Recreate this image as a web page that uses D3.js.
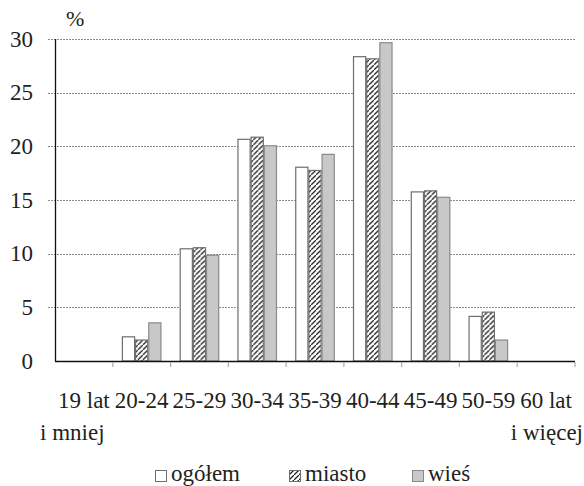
<!DOCTYPE html>
<html>
<head>
<meta charset="utf-8">
<script src="https://cdn.jsdelivr.net/npm/d3@7/dist/d3.min.js"></script>
</head>
<body style="margin:0">
<svg id="chart" width="584" height="486"></svg>
<script>
const categories = ["19 lat", "20-24", "25-29", "30-34", "35-39", "40-44", "45-49", "50-59", "60 lat"];
const secondLines = ["i mniej", "", "", "", "", "", "", "", "i więcej"];
const seriesNames = ["ogółem", "miasto", "wieś"];
const ogolem = [0, 2.3, 10.5, 20.7, 18.1, 28.4, 15.8, 4.2, 0];
const miasto = [0, 2.0, 10.6, 20.9, 17.8, 28.2, 15.9, 4.6, 0];
const wies   = [0, 3.6, 9.9, 20.1, 19.3, 29.7, 15.3, 2.0, 0];
const yTicks = [0, 5, 10, 15, 20, 25, 30];

const seriesValues = [ogolem, miasto, wies];
const svg = d3.select("#chart");
const textColor = "#231f20";
const fontSize = 23;

function addText(sel) {
  return sel.style("font-size", fontSize + "px")
    .style("font-family", "Times New Roman")
    .attr("fill", textColor);
}

// hatch pattern
const defs = svg.append("defs");
const pat = defs.append("pattern")
  .attr("id", "hatch").attr("patternUnits", "userSpaceOnUse")
  .attr("width", 5).attr("height", 5);
pat.append("rect").attr("width", 5).attr("height", 5).attr("fill", "#fff");
pat.append("path")
  .attr("d", "M-1,6 L6,-1 M-2,1 L1,-2 M4,7 L7,4")
  .attr("stroke", "#222").attr("stroke-width", 1.3);

const fills = ["#ffffff", "url(#hatch)", "#c8c8c8"];
const strokes = ["#6e6e6e", "#6e6e6e", "#8a8a8a"];

const x0 = d3.scaleBand().domain(categories).range([55, 575]).paddingInner(0).paddingOuter(0);
const bw = x0.bandwidth();
const x1 = d3.scaleBand().domain(seriesNames).range([bw * 0.158, bw * 0.842]).padding(0);
const y = d3.scaleLinear().domain([0, 30]).range([361, 39]);

// gridlines
svg.append("g").selectAll("line").data(yTicks.filter(d => d > 0)).join("line")
  .attr("x1", 48).attr("x2", 575)
  .attr("y1", d => Math.round(y(d)) + 0.5).attr("y2", d => Math.round(y(d)) + 0.5)
  .attr("stroke", "#8c8c8c").attr("stroke-width", 1).attr("stroke-dasharray", "2,1");

// y labels
addText(svg.append("g").selectAll("text").data(yTicks).join("text"))
  .attr("x", 33).attr("y", d => y(d) + 7.6)
  .attr("text-anchor", "end")
  .text(d => d);

addText(svg.append("text")).attr("x", 66).attr("y", 26).style("font-size", (fontSize - 1) + "px").text("%");

// bars
const groups = svg.append("g").selectAll("g").data(categories).join("g")
  .attr("transform", d => `translate(${x0(d)},0)`);
groups.selectAll("rect")
  .data((c, i) => seriesNames.map((s, j) => ({ s, j, v: seriesValues[j][i] })).filter(d => d.v > 0))
  .join("rect")
  .attr("x", d => x1(d.s) + 0.5)
  .attr("width", x1.bandwidth() - 1)
  .attr("y", d => y(d.v) + 0.5)
  .attr("height", d => y(0) - y(d.v) - 0.5)
  .attr("fill", d => fills[d.j])
  .attr("stroke", d => strokes[d.j])
  .attr("stroke-width", 1.2);

// axes lines
svg.append("line").attr("x1", 55.5).attr("x2", 55.5).attr("y1", y(30)).attr("y2", 361.5)
  .attr("stroke", "#111").attr("stroke-width", 1.3);
svg.append("line").attr("x1", 55).attr("x2", 575).attr("y1", 361.5).attr("y2", 361.5)
  .attr("stroke", "#111").attr("stroke-width", 1.3);

// x ticks at band boundaries
const boundaries = categories.map(c => x0(c)).slice(1).concat([x0(categories[categories.length - 1]) + bw]);
svg.append("g").selectAll("line").data(boundaries).join("line")
  .attr("x1", d => d).attr("x2", d => d).attr("y1", 362).attr("y2", 367)
  .attr("stroke", "#aaa").attr("stroke-width", 1.2);

// x labels
addText(svg.append("g").selectAll("text").data(categories).join("text"))
  .attr("x", d => x0(d) + bw / 2).attr("y", 408)
  .attr("text-anchor", "middle")
  .text(d => d);
addText(svg.append("text")).attr("x", 40).attr("y", 440).text(secondLines[0]);
addText(svg.append("text")).attr("x", 583).attr("y", 440).attr("text-anchor", "end").text(secondLines[8]);

// legend
const legendX = [155, 289, 412];
const leg = svg.append("g").selectAll("g").data(seriesNames).join("g")
  .attr("transform", (d, i) => `translate(${legendX[i]},470)`);
leg.append("rect").attr("x", 0.5).attr("y", 0.5).attr("width", 11).attr("height", 11)
  .attr("fill", (d, i) => fills[i])
  .attr("stroke", (d, i) => strokes[i]).attr("stroke-width", 1);
addText(leg.append("text")).attr("x", 16).attr("y", 11).text(d => d);
</script>
</body>
</html>
